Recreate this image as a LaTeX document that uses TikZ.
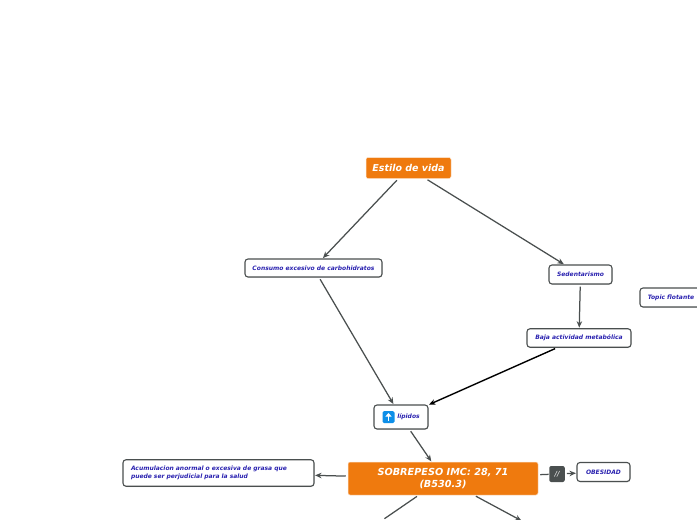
\documentclass[tikz,border=0pt]{standalone}
\usepackage{fontspec}
\setmainfont{DejaVu Sans}
\usetikzlibrary{arrows.meta,shadows}
\definecolor{naranja}{HTML}{EF7A0E}
\definecolor{tinta}{HTML}{2A22B0}
\definecolor{linea}{HTML}{4A4F4F}
\definecolor{azulicono}{HTML}{0E8FE8}

\begin{document}
\begin{tikzpicture}[
  x=1pt, y=-1pt,
  tema/.style={
    rectangle, draw=white!80!naranja, line width=0.5pt, rounded corners=2pt,
    fill=naranja, text=white, align=center, inner sep=0pt,
    font=\bfseries\itshape
  },
  sub/.style={
    rectangle, draw=linea, line width=1.1pt, rounded corners=3pt,
    fill=white, text=tinta, align=left, inner sep=0pt,
    font=\bfseries\itshape\fontsize{6}{8.3}\selectfont,
    drop shadow={shadow xshift=0.5pt, shadow yshift=-0.8pt, opacity=0.25}
  },
  conn/.style={draw=linea, line width=1.25pt, -{Stealth[length=6.5pt,width=5.5pt]}, shorten >=0.5pt, shorten <=2pt}
]
\useasboundingbox (0,0) rectangle (697,520);

\node[tema, minimum width=85pt, minimum height=21pt, font=\bfseries\itshape\fontsize{9.5}{11}\selectfont] (estilo) at (408.5,168) {Estilo de vida};
\node[sub, minimum width=137pt, minimum height=18pt] (consumo) at (313.5,268) {Consumo excesivo de carbohidratos};
\node[sub, minimum width=63pt, minimum height=19pt] (sedent) at (580.5,274.5) {Sedentarismo};
\node[sub, minimum width=104pt, minimum height=18.5pt] (baja) at (579,338) {Baja actividad metabólica};
\node[sub, minimum width=62pt, minimum height=19pt] (topic) at (671,297.5) {Topic flotante};
\node[sub, minimum width=54pt, minimum height=24pt, align=center] (lipidos) at (401,417) {\hspace*{15pt}lípidos};
\node[tema, minimum width=190pt, minimum height=33pt, font=\bfseries\itshape\fontsize{9.7}{12}\selectfont] (sobrepeso) at (443,478.5) {SOBREPESO IMC: 28, 71\\(B530.3)};
\node[sub, minimum width=191pt, minimum height=26.5pt, text width=175pt] (acumula) at (218.5,473) {Acumulacion anormal o excesiva de grasa que\\puede ser perjudicial para la salud};
\node[sub, minimum width=53pt, minimum height=19pt, align=center] (obesidad) at (603.5,472) {OBESIDAD};
\node[rectangle, rounded corners=2pt, fill=linea, text=white, inner sep=0pt, minimum width=15.5pt, minimum height=16pt, font=\itshape\fontsize{7}{8}\selectfont] (corte) at (557,474) {//};

% icono de lipidos
\node[rectangle, rounded corners=1.5pt, fill=azulicono, inner sep=0pt, minimum size=12pt] (icono) at (388.5,417) {};
\draw[white, line width=1.6pt, -{Triangle[length=3.5pt,width=6pt]}] ([yshift=-3.5pt]icono.center) -- ([yshift=4pt]icono.center);

\coordinate (abajoizq) at (384,519);
\coordinate (abajoder) at (522,521);

\draw[conn] (estilo) -- (consumo);
\draw[conn] (estilo) -- (sedent);
\draw[conn] (sedent) -- (baja);
\draw[conn] (consumo) -- (lipidos);
\draw[conn, draw=black, line width=1.4pt] (baja) -- (lipidos);
\draw[conn] (lipidos) -- (sobrepeso);
\draw[conn] (sobrepeso) -- (acumula);
\draw[conn, -] (sobrepeso) -- (corte);
\draw[conn] (corte) -- (obesidad);
\draw[conn, -] (sobrepeso) -- (abajoizq);
\draw[conn] (sobrepeso) -- (abajoder);
\end{tikzpicture}
\end{document}
